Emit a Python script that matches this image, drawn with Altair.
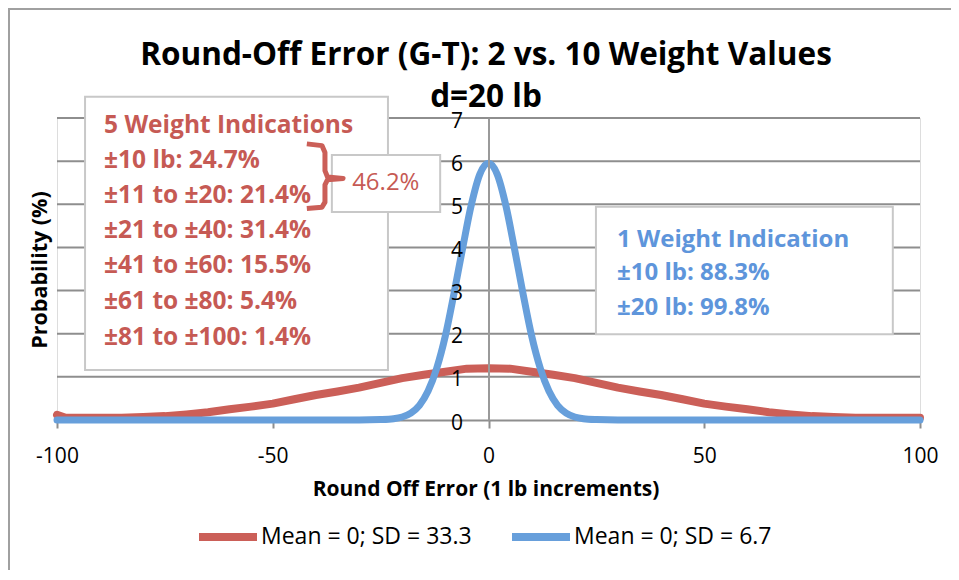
import altair as alt
import pandas as pd

# ---------------- data ----------------
red_x = [-100, -98, -95, -90, -85, -80, -75, -70, -65, -60, -55, -50, -45, -40, -35, -30,
         -25, -20, -15, -10, -5, 0, 5, 10, 15, 20, 25, 30, 35, 40, 45, 50, 55, 60, 65,
         70, 75, 80, 85, 90, 95, 100]
red_y = [0.12, 0.05, 0.05, 0.05, 0.05, 0.07, 0.09, 0.13, 0.18, 0.25, 0.31, 0.38, 0.48, 0.58,
         0.66, 0.75, 0.86, 0.97, 1.05, 1.12, 1.19, 1.20, 1.19, 1.12, 1.05, 0.97, 0.86, 0.75,
         0.66, 0.58, 0.48, 0.38, 0.31, 0.25, 0.18, 0.13, 0.09, 0.07, 0.05, 0.05, 0.05, 0.05]

blue_x = [-100, -30, -25, -22, -20, -18, -16, -14, -12, -10, -8, -6, -4, -2, 0,
          2, 4, 6, 8, 10, 12, 14, 16, 18, 20, 22, 25, 30, 100]
blue_y = [0.0, 0.0, 0.01, 0.03, 0.07, 0.16, 0.34, 0.67, 1.20, 1.95, 2.93, 3.98, 4.98, 5.70, 5.95,
          5.70, 4.98, 3.98, 2.93, 1.95, 1.20, 0.67, 0.34, 0.16, 0.07, 0.03, 0.01, 0.0, 0.0]

series_names = ["Mean = 0; SD = 33.3", "Mean = 0; SD = 6.7"]
grid_values = [1, 2, 3, 4, 5, 6, 7]
x_ticks = [-100, -50, 0, 50, 100]
y_ticks = [0, 1, 2, 3, 4, 5, 6, 7]

title_lines = ["Round-Off Error (G-T): 2 vs. 10 Weight Values", "d=20 lb"]
x_title = "Round Off Error (1 lb increments)"
y_title = "Probability (%)"

red_lines = ["5 Weight Indications", "±10 lb: 24.7%", "±11 to ±20: 21.4%", "±21 to ±40: 31.4%",
             "±41 to ±60: 15.5%", "±61 to ±80: 5.4%", "±81 to ±100: 1.4%"]
red_line_y = [6.65, 5.84, 5.03, 4.22, 3.41, 2.58, 1.74]
blue_lines = ["1 Weight Indication", "±10 lb: 88.3%", "±20 lb: 99.8%"]
blue_line_y = [4.01, 3.25, 2.43]
sum_label = "46.2%"

# annotation boxes (data units)
boxes = pd.DataFrame({
    "x": [-93.5, -36.3, 24.9],
    "x2": [-23.3, -11.2, 93.7],
    "y": [7.49, 6.14, 4.94],
    "y2": [1.16, 4.82, 1.99],
})
brace_x = [-42.1, -38.6, -37.9, -37.9, -37.3, -33.7, -37.3, -37.9, -37.9, -38.6, -42.1]
brace_y = [6.40, 6.36, 6.20, 5.78, 5.63, 5.60, 5.57, 5.45, 5.05, 4.93, 4.90]

RED = "#CB5F58"
BLUE = "#679FDB"
RED_T = "#C65A54"
BLUE_T = "#5E95DB"
FONT = "Open Sans"

red_df = pd.DataFrame({"x": red_x, "y": red_y, "s": series_names[0]})
blue_df = pd.DataFrame({"x": blue_x, "y": blue_y, "s": series_names[1]})

xs = alt.Scale(domain=[-100, 100], nice=False)
ys = alt.Scale(domain=[0, 7], nice=False)
cs = alt.Scale(domain=series_names, range=[RED, BLUE])

frame = alt.Chart(pd.DataFrame({"a": [0]})).mark_rect(
    fill="transparent", stroke="#A0A0A0", strokeWidth=2
).encode(x=alt.value(-48), x2=alt.value(1000), y=alt.value(-109), y2=alt.value(454))

grid = alt.Chart(pd.DataFrame({"g": grid_values})).mark_rule(
    color="#8E8E8E", strokeWidth=2
).encode(
    y=alt.Y("g:Q", scale=ys),
    x=alt.value(0), x2=alt.value(863),
)

red_line = alt.Chart(red_df).mark_line(strokeWidth=8, strokeCap="round", strokeJoin="round").encode(
    x=alt.X("x:Q", scale=xs, axis=alt.Axis(
        values=x_ticks, title=None, grid=False, domainColor="#8E8E8E", domainWidth=2,
        tickColor="#8E8E8E", tickWidth=2, tickSize=8, labelFontSize=21, labelFont=FONT,
        labelColor="black", labelPadding=17, labelFlush=False,
        labelExpr="'' + datum.value", zindex=0)),
    y=alt.Y("y:Q", scale=ys, axis=alt.Axis(
        values=y_ticks, title=None, grid=False, ticks=False, offset=-431.5,
        domainColor="#9A9A9A", domainWidth=2, labelFontSize=21, labelFont=FONT,
        labelColor="black", labelPadding=26, labelOffset=3, zindex=1)),
    color=alt.Color("s:N", scale=cs, title=None, legend=alt.Legend(
        orient="none", legendX=138, legendY=386, direction="horizontal",
        symbolType="stroke", symbolStrokeWidth=8, symbolSize=3364,
        labelFontSize=23, labelFont=FONT, labelColor="black", labelOffset=0,
        labelLimit=400, columnPadding=24)),
)

blue_line = alt.Chart(blue_df).mark_line(strokeWidth=7, strokeCap="round", strokeJoin="round",
                                          interpolate="monotone").encode(
    x=alt.X("x:Q", scale=xs),
    y=alt.Y("y:Q", scale=ys),
    color=alt.Color("s:N", scale=cs),
)

box_layer = alt.Chart(boxes).mark_rect(fill="white", stroke="#C8C8C8", strokeWidth=2).encode(
    x=alt.X("x:Q", scale=xs), x2="x2:Q", y=alt.Y("y:Q", scale=ys), y2="y2:Q"
)

brace = alt.Chart(pd.DataFrame({"x": brace_x, "y": brace_y, "o": list(range(len(brace_x)))})).mark_line(
    color=RED, strokeWidth=5, strokeJoin="round", strokeCap="butt"
).encode(x=alt.X("x:Q", scale=xs), y=alt.Y("y:Q", scale=ys), order="o:Q")

red_text = alt.Chart(pd.DataFrame({"t": red_lines, "y": red_line_y, "x": [-89.1] * len(red_lines)})).mark_text(
    align="left", baseline="alphabetic", fontSize=24.5, fontWeight="bold", font=FONT, color=RED_T
).encode(x=alt.X("x:Q", scale=xs), y=alt.Y("y:Q", scale=ys), text="t:N")

blue_text = alt.Chart(pd.DataFrame({"t": blue_lines, "y": blue_line_y, "x": [29.8] * len(blue_lines)})).mark_text(
    align="left", baseline="alphabetic", fontSize=24, fontWeight="bold", font=FONT, color=BLUE_T
).encode(x=alt.X("x:Q", scale=xs), y=alt.Y("y:Q", scale=ys), text="t:N")

sum_text = alt.Chart(pd.DataFrame({"t": [sum_label], "x": [-23.8], "y": [5.49]})).mark_text(
    align="center", baseline="middle", fontSize=24, font=FONT, color=RED_T
).encode(x=alt.X("x:Q", scale=xs), y=alt.Y("y:Q", scale=ys), text="t:N")

title_text = alt.Chart(pd.DataFrame({"t": title_lines, "yy": [-53, -11]})).mark_text(
    align="center", baseline="alphabetic", fontSize=31.5, fontWeight="bold", font=FONT, color="black"
).encode(x=alt.value(429), y=alt.Y("yy:Q", scale=None), text="t:N")

xt = alt.Chart(pd.DataFrame({"t": [x_title]})).mark_text(
    align="center", baseline="middle", fontSize=21, fontWeight="bold", font=FONT, color="black"
).encode(x=alt.value(429), y=alt.value(372), text="t:N")

yt = alt.Chart(pd.DataFrame({"t": [y_title]})).mark_text(
    align="center", baseline="middle", fontSize=21.5, fontWeight="bold", font=FONT, color="black",
    angle=270
).encode(x=alt.value(-16), y=alt.value(152), text="t:N")

chart = alt.layer(
    frame, grid, red_line, blue_line, box_layer, brace, red_text, blue_text, sum_text,
    title_text, xt, yt
).properties(
    width=863, height=302,
    padding={"left": 49, "top": 110, "right": 31, "bottom": 150},
    autosize=alt.AutoSizeParams(type="none"),
).configure_view(stroke=None).configure(background="white")

chart.save("out.html", embed_options={"renderer": "svg", "actions": False})
